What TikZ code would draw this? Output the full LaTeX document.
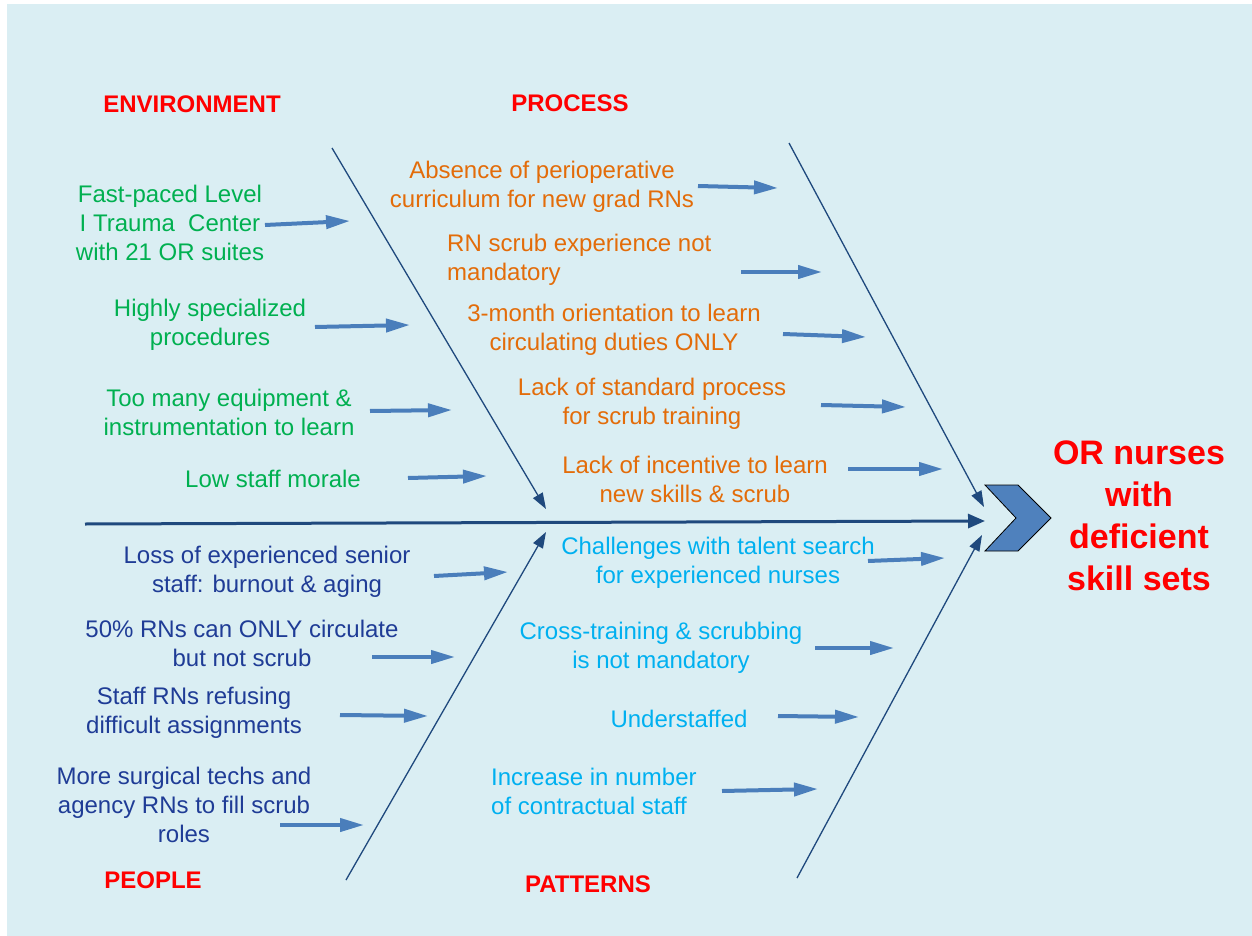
\documentclass[tikz,border=0pt]{standalone}
\usepackage{fontspec}
\setmainfont{Liberation Sans}
\usepackage{tikz}
\usetikzlibrary{arrows.meta,positioning}
\definecolor{bgblue}{HTML}{DAEEF3}
\definecolor{envgreen}{HTML}{00B050}
\definecolor{procorange}{HTML}{E36C09}
\definecolor{peoplenavy}{HTML}{1F3C96}
\definecolor{patblue}{HTML}{00B0F0}
\definecolor{arrowblue}{HTML}{4A7EBB}
\definecolor{bonenavy}{HTML}{1F497D}
\definecolor{chevblue}{HTML}{4F81BD}

\begin{document}
\begin{tikzpicture}
[x=1pt,y=-1pt,
txt/.style={align=center,inner sep=0pt,yshift=-2.5pt,font=\fontsize{24}{29}\selectfont},
envtxt/.style={txt,text=envgreen},
proctxt/.style={txt,text=procorange},
peopletxt/.style={txt,text=peoplenavy},
pattxt/.style={txt,text=patblue},
cat/.style={inner sep=0pt,text=red,font=\fontsize{24}{29}\selectfont\bfseries},
small/.style={draw=arrowblue,line width=4pt,-{Triangle[length=24pt,width=13pt]}},
bone/.style={draw=bonenavy,line width=1.3pt,-{Triangle[length=16pt,width=11pt]}}]
\useasboundingbox (0,0) rectangle (1252,936);
\fill[bgblue] (7,4) rectangle (1252,936);

% categories
\node[cat] (env) at (192,104) {ENVIRONMENT};
\node[cat] (proc) at (570,103) {PROCESS};
\node[cat] (people) at (153,880) {PEOPLE};
\node[cat] (pat) at (588,884) {PATTERNS};

% head
\node[inner sep=0pt,text=red,align=center,font=\fontsize{34}{42}\selectfont\bfseries] (head) at (1139,516) {OR nurses\\with\\deficient\\skill sets};
\draw[fill=chevblue,draw=black,line width=0.8pt] (985,485) -- (1018,485) -- (1051,518) -- (1018,551) -- (985,551) -- (1016,518) -- cycle;

% spine and bones
\coordinate (tail) at (85,524);
\coordinate (tip) at (985,521);
\coordinate (envtop) at (332,148);
\coordinate (envend) at (546,509);
\coordinate (proctop) at (789,143);
\coordinate (procend) at (984,507);
\coordinate (peoplebot) at (346,880);
\coordinate (peopleend) at (546,532);
\coordinate (patbot) at (797,878);
\coordinate (patend) at (982,535);
\draw[bonenavy,line width=3pt,-{Triangle[length=17pt,width=14pt]}] (tail) -- (tip);
\draw[bone] (envtop) -- (envend);
\draw[bone] (proctop) -- (procend);
\draw[bone] (peoplebot) -- (peopleend);
\draw[bone] (patbot) -- (patend);

% environment
\node[envtxt] (e1) at (170,220) {Fast-paced Level\\I Trauma~ Center\\with 21 OR suites};
\node[envtxt] (e2) at (210,322) {Highly specialized\\procedures};
\node[envtxt] (e3) at (229,410) {Too many equipment \&\\instrumentation to learn};
\node[envtxt] (e4) at (273,476) {Low staff morale};
\coordinate (e1a) at (265,225); \coordinate (e1b) at (350,221);
\coordinate (e2a) at (315,327); \coordinate (e2b) at (410,325);
\coordinate (e3a) at (370,411); \coordinate (e3b) at (452,410);
\coordinate (e4a) at (408,478); \coordinate (e4b) at (487,476);
\draw[small] (e1a) -- (e1b);
\draw[small] (e2a) -- (e2b);
\draw[small] (e3a) -- (e3b);
\draw[small] (e4a) -- (e4b);

% process
\node[proctxt] (p1) at (542,184) {Absence of perioperative\\curriculum for new grad RNs};
\node[proctxt,align=left,anchor=west] (p2) at (447,257) {RN scrub experience not\\mandatory};
\node[proctxt] (p3) at (614,327) {3-month orientation to learn\\circulating duties ONLY};
\node[proctxt] (p4) at (652,401) {Lack of standard process\\for scrub training};
\node[proctxt] (p5) at (695,477) {Lack of incentive to learn\\new skills \& scrub};
\coordinate (p1a) at (698,186); \coordinate (p1b) at (778,188);
\coordinate (p2a) at (741,272); \coordinate (p2b) at (822,272);
\coordinate (p3a) at (783,334); \coordinate (p3b) at (866,337);
\coordinate (p4a) at (821,405); \coordinate (p4b) at (906,407);
\coordinate (p5a) at (848,469); \coordinate (p5b) at (943,469);
\draw[small] (p1a) -- (p1b);
\draw[small] (p2a) -- (p2b);
\draw[small] (p3a) -- (p3b);
\draw[small] (p4a) -- (p4b);
\draw[small] (p5a) -- (p5b);

% people
\node[peopletxt] (l1) at (267,569) {Loss of experienced senior\\staff: burnout \& aging};
\node[peopletxt] (l2) at (242,641) {50\% RNs can ONLY circulate\\but not scrub};
\node[peopletxt] (l3) at (194,710) {Staff RNs refusing\\difficult assignments};
\node[peopletxt] (l4) at (184,802) {More surgical techs and\\agency RNs to fill scrub\\roles};
\coordinate (l1a) at (434,576); \coordinate (l1b) at (508,572);
\coordinate (l2a) at (372,657); \coordinate (l2b) at (455,657);
\coordinate (l3a) at (340,715); \coordinate (l3b) at (428,716);
\coordinate (l4a) at (280,825); \coordinate (l4b) at (364,825);
\draw[small] (l1a) -- (l1b);
\draw[small] (l2a) -- (l2b);
\draw[small] (l3a) -- (l3b);
\draw[small] (l4a) -- (l4b);

% patterns
\node[pattxt] (t1) at (718,560) {Challenges with talent search\\for experienced nurses};
\node[pattxt] (t2) at (661,645) {Cross-training \& scrubbing\\is not mandatory};
\node[pattxt] (t3) at (679,716) {Understaffed};
\node[pattxt,align=left,anchor=west] (t4) at (491,789) {Increase in number\\of contractual staff};
\coordinate (t1a) at (868,561); \coordinate (t1b) at (945,558);
\coordinate (t2a) at (815,648); \coordinate (t2b) at (894,648);
\coordinate (t3a) at (778,716); \coordinate (t3b) at (859,717);
\coordinate (t4a) at (722,791); \coordinate (t4b) at (818,789);
\draw[small] (t1a) -- (t1b);
\draw[small] (t2a) -- (t2b);
\draw[small] (t3a) -- (t3b);
\draw[small] (t4a) -- (t4b);
\end{tikzpicture}
\end{document}
